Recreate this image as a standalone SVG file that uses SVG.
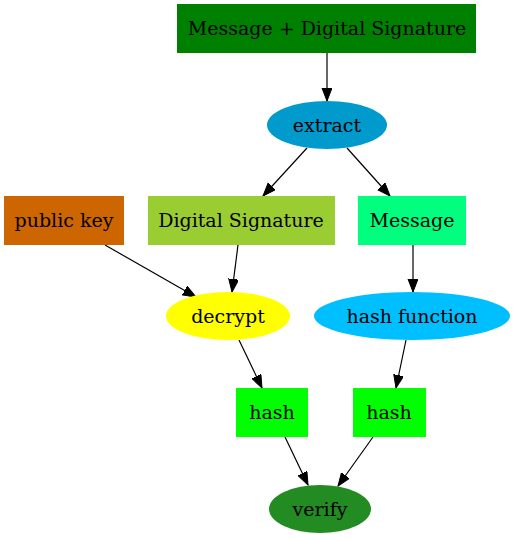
<svg xmlns="http://www.w3.org/2000/svg" width="516" height="539" viewBox="0 0 516 539">
<style>
text{font-family:"DejaVu Serif","Liberation Serif",serif;font-size:19px;text-anchor:middle;dominant-baseline:central;fill:#000}
.e{stroke:#000;stroke-width:1.2;fill:none;marker-end:url(#ah)}
</style>
<defs>
<marker id="ah" markerUnits="userSpaceOnUse" markerWidth="16" markerHeight="12" refX="13" refY="5" orient="auto">
<path d="M0,0 L13,5 L0,10 Z" fill="#000" stroke="#000"/>
</marker>
</defs>
<rect width="516" height="539" fill="#fff"/>
<g id="connectors">
<line class="e" x1="327" y1="53" x2="327" y2="101"/>
<line class="e" x1="307" y1="148" x2="263" y2="196"/>
<line class="e" x1="347" y1="148" x2="390" y2="196"/>
<line class="e" x1="105" y1="245" x2="196" y2="297"/>
<line class="e" x1="238" y1="245" x2="232" y2="292"/>
<line class="e" x1="413" y1="245" x2="413" y2="292"/>
<line class="e" x1="239" y1="340" x2="262" y2="388"/>
<line class="e" x1="406" y1="340" x2="396" y2="388"/>
<line class="e" x1="285" y1="437" x2="308" y2="485"/>
<line class="e" x1="373" y1="437" x2="338" y2="486"/>
</g>
<g id="n_msgsig"><rect x="177" y="4" width="299" height="49" fill="#008000"/><text x="327" y="28">Message + Digital Signature</text></g>
<g id="n_extract"><ellipse cx="327" cy="125" rx="60" ry="24" fill="#009ACD"/><text x="327" y="125">extract</text></g>
<g id="n_pubkey"><rect x="4" y="196" width="120" height="49" fill="#CD6600"/><text x="64" y="220">public key</text></g>
<g id="n_digsig"><rect x="148" y="196" width="187" height="49" fill="#9ACD32"/><text x="241" y="220">Digital Signature</text></g>
<g id="n_message"><rect x="358" y="196" width="108" height="49" fill="#00FF7F"/><text x="412" y="220">Message</text></g>
<g id="n_decrypt"><ellipse cx="228" cy="316" rx="62" ry="24" fill="#FFFF00"/><text x="228" y="316">decrypt</text></g>
<g id="n_hashfn"><ellipse cx="412" cy="316" rx="98" ry="24" fill="#00BFFF"/><text x="412" y="316">hash function</text></g>
<g id="n_hash1"><rect x="236" y="388" width="72" height="49" fill="#00FF00"/><text x="272" y="412">hash</text></g>
<g id="n_hash2"><rect x="353" y="388" width="73" height="49" fill="#00FF00"/><text x="389" y="412">hash</text></g>
<g id="n_verify"><ellipse cx="320" cy="509" rx="51" ry="24" fill="#228B22"/><text x="320" y="509">verify</text></g>
</svg>
